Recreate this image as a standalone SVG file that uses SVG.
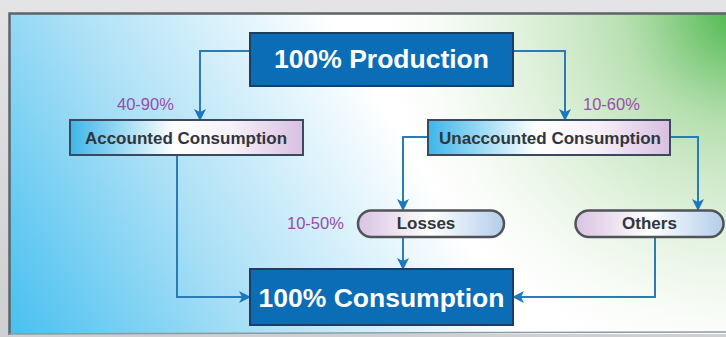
<svg xmlns="http://www.w3.org/2000/svg" width="726" height="337" viewBox="0 0 726 337">
<defs>
<linearGradient id="frame" x1="0" y1="0" x2="0" y2="1">
<stop offset="0" stop-color="#e4e4e6"/>
<stop offset="1" stop-color="#cfcfd1"/>
</linearGradient>
<linearGradient id="bgBlue" gradientUnits="userSpaceOnUse" x1="10" y1="335" x2="420" y2="90">
<stop offset="0" stop-color="#48c0f0"/>
<stop offset="0.45" stop-color="#ace0f6"/>
<stop offset="0.92" stop-color="#ffffff"/>
<stop offset="1" stop-color="#ffffff"/>
</linearGradient>
<radialGradient id="bgGreen" gradientUnits="userSpaceOnUse" cx="740" cy="10" r="380">
<stop offset="0" stop-color="#45b545" stop-opacity="1"/>
<stop offset="0.3" stop-color="#a4d79c" stop-opacity="0.8"/>
<stop offset="0.7" stop-color="#dcefd6" stop-opacity="0.5"/>
<stop offset="1" stop-color="#ffffff" stop-opacity="0"/>
</radialGradient>
<linearGradient id="boxFill" x1="0" y1="0" x2="1" y2="0">
<stop offset="0" stop-color="#3eb6e8"/>
<stop offset="0.45" stop-color="#ffffff"/>
<stop offset="0.7" stop-color="#f6f0f8"/>
<stop offset="1" stop-color="#d9bfe2"/>
</linearGradient>
<linearGradient id="pillFill" x1="0" y1="0" x2="1" y2="0">
<stop offset="0" stop-color="#d9c3e2"/>
<stop offset="0.5" stop-color="#ffffff"/>
<stop offset="1" stop-color="#b3cdeb"/>
</linearGradient>
<marker id="arr" viewBox="0 0 12 12" refX="11" refY="6" markerWidth="12" markerHeight="12" markerUnits="userSpaceOnUse" orient="auto">
<path d="M0,0 L12,6 L0,12 L3,6 Z" fill="#1c78bc"/>
</marker>
</defs>
<style>
.big{fill:#0b6db6;stroke:#1d3d66;stroke-width:2}
.bigt{font-family:"Liberation Sans",Arial,sans-serif;font-weight:bold;font-size:26.5px;fill:#ffffff;text-anchor:middle}
.box{fill:url(#boxFill);stroke:#3a4a5e;stroke-width:2}
.boxt{font-family:"Liberation Sans",Arial,sans-serif;font-weight:bold;font-size:17px;fill:#30363c;text-anchor:middle}
.pill{fill:url(#pillFill);stroke:#505458;stroke-width:2.5}
.pct{font-family:"Liberation Sans",Arial,sans-serif;font-size:16.5px;fill:#9a4cab}
.con{fill:none;stroke:#2a7bb8;stroke-width:2;marker-end:url(#arr)}
</style>
<rect x="0" y="0" width="726" height="337" fill="url(#frame)"/>
<rect x="9" y="13" width="720" height="321" fill="url(#bgBlue)"/>
<rect x="9" y="13" width="720" height="321" fill="url(#bgGreen)"/>
<path d="M9.5,335 L9.5,13.5 L726,13.5" fill="none" stroke="#5e6468" stroke-width="2.5"/>
<line x1="9" y1="334" x2="726" y2="332" stroke="#8a9aa2" stroke-width="1.5"/>

<g id="connectors">
<polyline class="con" points="250,51 200,51 200,120"/>
<polyline class="con" points="513,51 565,51 565,120"/>
<polyline class="con" points="428,137 403,137 403,210"/>
<polyline class="con" points="670,137 698,137 698,210"/>
<polyline class="con" points="403,237 403,269"/>
<polyline class="con" points="177,155 177,297 250,297"/>
<polyline class="con" points="655,237 655,297 513,297"/>
</g>

<g id="production">
<rect class="big" x="250" y="33" width="263" height="53"/>
<text class="bigt" x="381.5" y="68">100% Production</text>
</g>

<g id="accounted">
<rect class="box" x="70" y="120" width="233" height="35"/>
<text class="boxt" x="186" y="144">Accounted Consumption</text>
</g>

<g id="unaccounted">
<rect class="box" x="428" y="120" width="242" height="35"/>
<text class="boxt" x="550" y="144">Unaccounted Consumption</text>
</g>

<g id="losses">
<rect class="pill" x="358" y="210.5" width="146" height="26.5" rx="13.25"/>
<text class="boxt" x="426" y="228.5">Losses</text>
</g>

<g id="others">
<rect class="pill" x="575.5" y="210.5" width="148" height="26.5" rx="13.25"/>
<text class="boxt" x="649.5" y="228.5">Others</text>
</g>

<g id="consumption">
<rect class="big" x="250" y="269" width="263" height="56"/>
<text class="bigt" x="381.5" y="307">100% Consumption</text>
</g>

<g id="labels">
<text class="pct" x="117" y="110">40-90%</text>
<text class="pct" x="583" y="110">10-60%</text>
<text class="pct" x="287" y="228.5">10-50%</text>
</g>
</svg>
